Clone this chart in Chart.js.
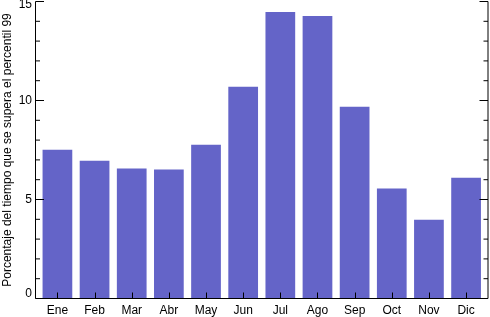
<!DOCTYPE html>
<html>
<head>
<meta charset="utf-8">
<script src="https://cdn.jsdelivr.net/npm/chart.js@4"></script>
<style>
  html, body { margin: 0; padding: 0; background: #fff; }
  #wrap { width: 490px; height: 317px; position: relative; }
</style>
</head>
<body>
<div id="wrap"><canvas id="c" width="490" height="317"></canvas></div>
<script>
const months = ['Ene','Feb','Mar','Abr','May','Jun','Jul','Ago','Sep','Oct','Nov','Dic'];
const values = [7.51, 6.96, 6.56, 6.51, 7.77, 10.69, 14.47, 14.27, 9.68, 5.55, 3.98, 6.10];
const yTicks = [0, 5, 10, 15];
const yMinorStep = 1;
const yTitle = 'Porcentaje del tiempo que se supera el percentil 99';

const FONT = 'Liberation Sans, Arial, Helvetica, sans-serif';

const axisPlugin = {
  id: 'axisFrame',
  afterDraw(chart) {
    const ctx = chart.ctx;
    const a = chart.chartArea;
    const xs = chart.scales.x, ys = chart.scales.y;
    ctx.save();
    ctx.strokeStyle = '#000';
    ctx.lineWidth = 1;
    ctx.beginPath();
    ctx.moveTo(a.left, a.top); ctx.lineTo(a.left, a.bottom);
    ctx.moveTo(a.left, a.bottom); ctx.lineTo(a.right, a.bottom);
    ctx.moveTo(a.right, a.top); ctx.lineTo(a.right, a.bottom);
    for (let v = ys.min; v <= ys.max + 1e-9; v += yMinorStep) {
      const py = ys.getPixelForValue(v);
      const major = yTicks.includes(v);
      const len = major ? 8.5 : 4.5;
      ctx.moveTo(a.left, py); ctx.lineTo(a.left + len, py);
      ctx.moveTo(a.right, py); ctx.lineTo(a.right - len, py);
    }
    months.forEach((m, i) => {
      const px = Math.round(xs.getPixelForValue(i)) + 0.5;
      ctx.moveTo(px, a.bottom); ctx.lineTo(px, a.bottom - 6);
    });
    ctx.stroke();
    ctx.restore();
  }
};

new Chart(document.getElementById('c'), {
  type: 'bar',
  data: {
    datasets: [{
      data: values.map((v, i) => ({ x: i, y: v })),
      backgroundColor: '#6464C8',
      borderWidth: 0,
      categoryPercentage: 1.0,
      barPercentage: 0.8
    }]
  },
  options: {
    responsive: false,
    animation: false,
    devicePixelRatio: 1,
    layout: { padding: { top: 1.5, right: 2, left: 0, bottom: 0 } },
    plugins: { legend: { display: false }, tooltip: { enabled: false } },
    scales: {
      x: {
        type: 'linear',
        offset: false,
        min: -0.59,
        max: 11.59,
        grid: { display: false, drawTicks: false, offset: false },
        border: { display: false },
        afterBuildTicks: s => { s.ticks = months.map((m, i) => ({ value: i })); },
        afterFit: s => { s.height = 18.5; s.paddingLeft = 0; s.paddingRight = 0; },
        ticks: {
          autoSkip: false,
          maxRotation: 0,
          padding: 5,
          color: '#000',
          font: { family: FONT, size: 12 },
          callback: v => months[v]
        }
      },
      y: {
        min: 0,
        max: 15,
        grid: { display: false, drawTicks: false },
        border: { display: false },
        afterBuildTicks: s => { s.ticks = yTicks.map(v => ({ value: v })); },
        afterFit: s => { s.width = 35.5; s.paddingTop = 0; s.paddingBottom = 0; },
        ticks: {
          padding: 3.5,
          color: '#000',
          font: ctx => {
            const v = ctx.tick && ctx.tick.value;
            if (v === 15) return { family: FONT, size: 12, lineHeight: 0.5 };
            if (v === 0) return { family: FONT, size: 12, lineHeight: 0.8 };
            return { family: FONT, size: 12 };
          },
          callback: v => v === 15 ? ['', String(v)] : (v === 0 ? [String(v), ''] : String(v))
        },
        title: {
          display: true,
          text: yTitle,
          color: '#000',
          padding: 0,
          font: { family: FONT, size: 12 }
        }
      }
    }
  },
  plugins: [axisPlugin]
});
</script>
</body>
</html>
